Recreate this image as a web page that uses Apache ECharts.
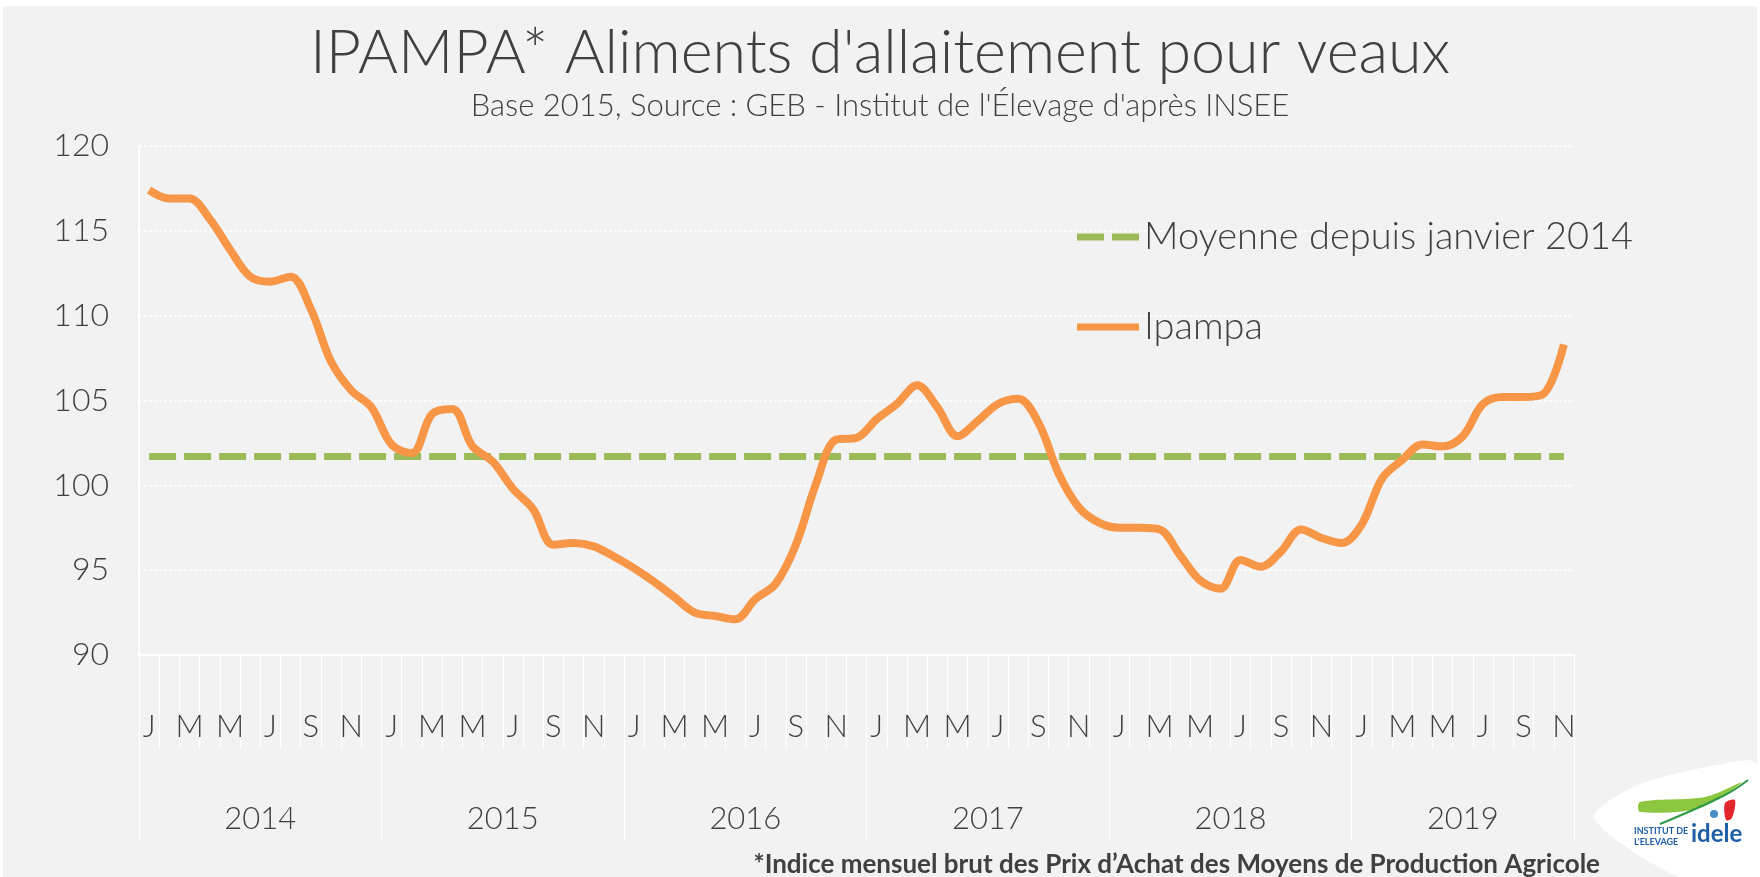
<!DOCTYPE html>
<html>
<head>
<meta charset="utf-8">
<script src="https://cdn.jsdelivr.net/npm/echarts@6/dist/echarts.min.js"></script>
<style>
html,body{margin:0;padding:0;background:#ffffff;}
#chart{width:1760px;height:877px;}
</style>
</head>
<body>
<div id="chart"></div>
<script>
// ---- data ----
const monthLetters = ['J','F','M','A','M','J','J','A','S','O','N','D'];
const years = ['2014','2015','2016','2017','2018','2019'];
const monthCount = 71; // Jan 2014 .. Nov 2019
const ipampa = [
  117.4,116.9,116.9,115.7,113.9,112.3,112.0,112.3,110.4,107.3,105.6,104.6,
  102.4,101.9,104.2,104.5,102.3,101.4,99.8,98.6,96.5,96.6,96.4,95.8,
  95.1,94.3,93.4,92.5,92.3,92.1,93.3,94.2,96.5,100.1,102.7,102.8,
  103.9,104.8,105.9,104.6,102.9,103.8,104.8,105.1,103.7,100.7,98.7,97.8,
  97.5,97.5,97.4,95.9,94.4,93.9,95.6,95.2,96.1,97.4,96.9,96.6,
  97.7,100.4,101.5,102.4,102.3,102.9,104.8,105.2,105.2,105.4,108.3
];
const moyenne = 101.7;
const yTicks = [90,95,100,105,110,115,120];
const yearTickPositions = [0,12,24,36,48,60,71];
const yearLabelPositions = [6,18,30,42,54,65.5];
const seriesNames = ['Moyenne depuis janvier 2014','Ipampa'];
const titleText = "IPAMPA* Aliments d'allaitement pour veaux";
const subtitleText = "Base 2015, Source : GEB - Institut de l'Élevage d'après INSEE";
const footnoteText = "*Indice mensuel brut des Prix d’Achat des Moyens de Production Agricole";

// ---- derived ----
const categories = [];
for (let i = 0; i < monthCount; i++) categories.push(monthLetters[i % 12]);
const moyenneSeries = ipampa.map(() => moyenne);

const FONT = 'Lato, "Open Sans", sans-serif';
const TXT = '#404040';
const GREEN = '#9bbb59';
const ORANGE = '#f79646';

const chart = echarts.init(document.getElementById('chart'), null, {renderer: 'canvas'});
chart.setOption({
  backgroundColor: '#ffffff',
  animation: false,
  title: {
    text: titleText,
    subtext: subtitleText,
    left: 'center',
    top: 18,
    itemGap: 6,
    textStyle: {fontFamily: FONT, fontWeight: 300, fontSize: 61, color: TXT},
    subtextStyle: {fontFamily: FONT, fontWeight: 300, fontSize: 31, color: TXT}
  },
  legend: {
    orient: 'vertical',
    left: 1072,
    top: 213,
    itemGap: 52,
    itemWidth: 62,
    itemHeight: 7,
    textStyle: {fontFamily: FONT, fontSize: 38, color: TXT, fontWeight: 300},
    data: [
      {name: seriesNames[0], icon: 'path://M0,0H27V7H0Z M35,0H62V7H35Z', itemStyle: {color: GREEN}},
      {name: seriesNames[1], icon: 'rect', itemStyle: {color: ORANGE}}
    ]
  },
  grid: {left: 139, right: 186, top: 146, bottom: 222, containLabel: false},
  xAxis: [
    {
      type: 'category',
      data: categories,
      boundaryGap: true,
      axisLine: {show: true, lineStyle: {color: '#ffffff', width: 2}},
      axisTick: {show: true, interval: 0, length: 93, lineStyle: {color: '#ffffff', width: 1}},
      axisLabel: {interval: 1, margin: 56, fontFamily: FONT, fontSize: 31, color: TXT, fontWeight: 300},
      splitLine: {show: false}
    },
    {
      type: 'value',
      min: 0,
      max: monthCount,
      position: 'bottom',
      axisLine: {show: false},
      axisTick: {show: true, customValues: yearTickPositions, length: 185, lineStyle: {color: '#ffffff', width: 1}},
      axisLabel: {
        customValues: yearLabelPositions,
        margin: 148,
        fontFamily: FONT, fontSize: 31, color: TXT, fontWeight: 300,
        formatter: v => years[Math.floor(v / 12)]
      },
      splitLine: {show: false}
    }
  ],
  yAxis: {
    type: 'value',
    min: 90,
    max: 120,
    interval: 5,
    axisLine: {show: true, lineStyle: {color: '#ffffff', width: 2}},
    axisTick: {show: false},
    axisLabel: {margin: 30, fontFamily: FONT, fontSize: 32, color: TXT, fontWeight: 300,
      formatter: v => yTicks.includes(v) ? String(v) : ''},
    splitLine: {show: true, lineStyle: {color: '#ffffff', width: 1.5, type: [3, 2]}}
  },
  graphic: [
    {type: 'rect', z: -10, silent: true, shape: {x: 3, y: 6, width: 1754, height: 871}, style: {fill: '#f2f2f2'}},
    {type: 'text', z: 10, style: {x: 1600, y: 865, text: footnoteText, textAlign: 'right', textVerticalAlign: 'middle',
      font: 'bold 26px ' + FONT, fill: TXT}},
    // logo badge
    {type: 'polygon', z: 5, silent: true, shape: {points: [[1594, 818], [1640, 784], [1748, 760], [1760, 770], [1760, 877], [1680, 877]], smooth: 0.25},
      style: {fill: '#ffffff'}},
    {type: 'polygon', z: 6, silent: true, shape: {points: [[1640, 812], [1700, 808], [1742, 782], [1705, 797], [1640, 802]], smooth: 0.3},
      style: {fill: '#8dc63f'}},
    {type: 'polyline', z: 6, silent: true, shape: {points: [[1660, 824], [1725, 795], [1748, 780]], smooth: 0.4},
      style: {stroke: '#2e9a47', lineWidth: 2, fill: null}},
    {type: 'text', z: 7, style: {x: 1634, y: 827, text: 'INSTITUT DE', font: 'bold 9px ' + FONT, fill: '#1f5fa8'}},
    {type: 'text', z: 7, style: {x: 1634, y: 838, text: "L'ELEVAGE", font: 'bold 9px ' + FONT, fill: '#1f5fa8'}},
    {type: 'text', z: 7, style: {x: 1691, y: 822, text: 'idele', font: 'bold 24px ' + FONT, fill: '#1f5fa8'}},
    {type: 'polygon', z: 7, silent: true, shape: {points: [[1725, 803], [1735, 800], [1732, 818], [1726, 820]], smooth: 0.3},
      style: {fill: '#e3262c'}},
    {type: 'circle', z: 7, silent: true, shape: {cx: 1714, cy: 814, r: 4}, style: {fill: '#4a90c8'}}
  ],
  series: [
    {
      name: seriesNames[0],
      type: 'line',
      xAxisIndex: 0,
      data: moyenneSeries,
      symbol: 'none',
      z: 2,
      lineStyle: {color: GREEN, width: 7, type: [27, 8]},
      itemStyle: {color: GREEN}
    },
    {
      name: seriesNames[1],
      type: 'line',
      xAxisIndex: 0,
      data: ipampa,
      symbol: 'none',
      smooth: 0.35,
      z: 3,
      lineStyle: {color: ORANGE, width: 8, cap: 'butt'},
      itemStyle: {color: ORANGE}
    }
  ]
});
</script>
</body>
</html>
